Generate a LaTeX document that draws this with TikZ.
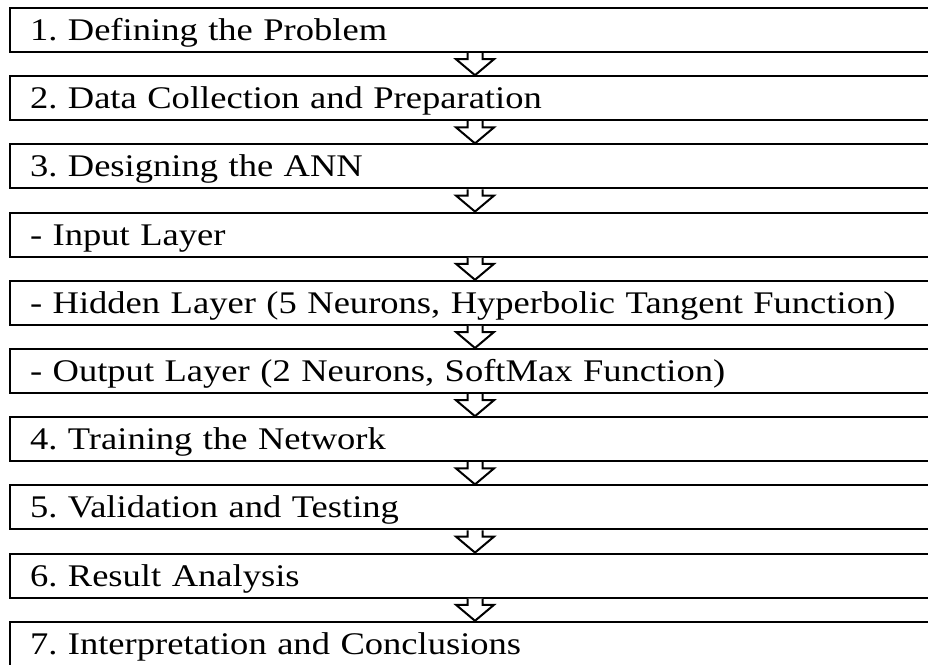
\documentclass[tikz,border=0pt]{standalone}
\usepackage{fontspec}
\setmainfont[FakeStretch=1.16]{Liberation Serif}
\usetikzlibrary{positioning}

\tikzset{
    stepbox/.style={draw, line width=2pt, rectangle, text width=890pt, inner xsep=20pt,
        inner ysep=0pt, minimum height=44pt, align=left,
        text height=21pt, text depth=0pt, font=\fontsize{31.5}{36}\selectfont},
    flowarrow/.style={draw, fill=white, line width=2pt}
}
% block arrow from the bottom of one step to the top of the next
\newcommand{\stepto}[2]{%
    \draw[flowarrow] ([xshift=-7.5pt]#1.south) |- ([xshift=-19pt,yshift=16pt]#2.north)
        -- (#2.north) -- ([xshift=19pt,yshift=16pt]#2.north) -| ([xshift=7.5pt]#1.south);}

\begin{document}
\frenchspacing
\begin{tikzpicture}
\useasboundingbox (0,0) rectangle (928pt,-664pt);
\clip (0,0) rectangle (928pt,-664pt);

% Steps
\node[stepbox, anchor=north west] (s1) at (9pt,-7pt) {1. Defining the Problem};
\node[stepbox, below=22.2pt of s1] (s2) {2. Data Collection and Preparation};
\node[stepbox, below=22.2pt of s2] (s3) {3. Designing the ANN};
\node[stepbox, below=22.2pt of s3] (s4) {- Input Layer};
\node[stepbox, below=22.2pt of s4] (s5) {- Hidden Layer (5 Neurons, Hyperbolic Tangent Function)};
\node[stepbox, below=22.2pt of s5] (s6) {- Output Layer (2 Neurons, SoftMax Function)};
\node[stepbox, below=22.2pt of s6] (s7) {4. Training the Network};
\node[stepbox, below=22.2pt of s7] (s8) {5. Validation and Testing};
\node[stepbox, below=22.2pt of s8] (s9) {6. Result Analysis};
\node[stepbox, below=22.2pt of s9] (s10) {7. Interpretation and Conclusions};

% Arrows
\foreach \a/\b in {s1/s2, s2/s3, s3/s4, s4/s5, s5/s6, s6/s7, s7/s8, s8/s9, s9/s10}
    \stepto{\a}{\b};

\end{tikzpicture}
\end{document}
